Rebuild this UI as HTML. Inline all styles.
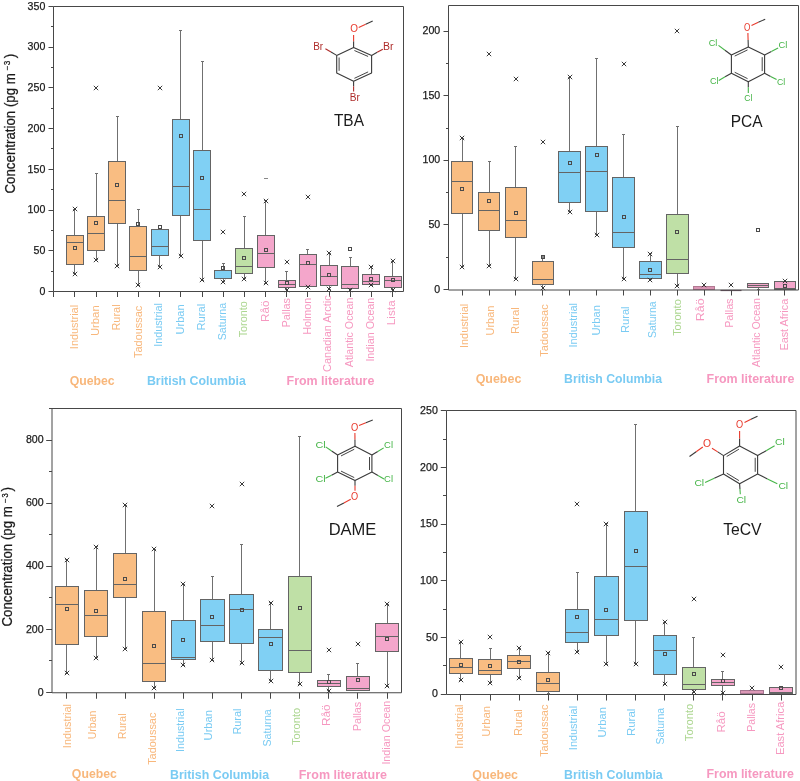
<!DOCTYPE html><html><head><meta charset="utf-8"><style>html,body{margin:0;padding:0;background:#fff;}svg{display:block;will-change:transform;}text{font-family:"Liberation Sans", sans-serif;}</style></head><body>
<svg width="800" height="781" viewBox="0 0 800 781">
<rect width="800" height="781" fill="#fff"/>
<line x1="74.5" y1="209.5" x2="74.5" y2="235.5" stroke="#707070" stroke-width="1"/>
<line x1="73" y1="209.5" x2="76" y2="209.5" stroke="#707070" stroke-width="1"/>
<line x1="74.5" y1="264.5" x2="74.5" y2="273.5" stroke="#707070" stroke-width="1"/>
<line x1="73" y1="273.5" x2="76" y2="273.5" stroke="#707070" stroke-width="1"/>
<rect x="66.5" y="235.5" width="17" height="29" fill="#F9BD82" stroke="#646464" stroke-width="1"/>
<line x1="66.5" y1="242.5" x2="83.5" y2="242.5" stroke="#646464" stroke-width="1"/>
<rect x="73.5" y="246.5" width="3" height="3" fill="none" stroke="#4a4a4a" stroke-width="1"/>
<path d="M72.8 206.8L77.2 211.2M77.2 206.8L72.8 211.2" stroke="#303030" stroke-width="0.95" fill="none"/>
<path d="M72.8 271.8L77.2 276.2M77.2 271.8L72.8 276.2" stroke="#303030" stroke-width="0.95" fill="none"/>
<line x1="96.5" y1="173.5" x2="96.5" y2="216.5" stroke="#707070" stroke-width="1"/>
<line x1="95" y1="173.5" x2="98" y2="173.5" stroke="#707070" stroke-width="1"/>
<line x1="96.5" y1="250.5" x2="96.5" y2="259.5" stroke="#707070" stroke-width="1"/>
<line x1="95" y1="259.5" x2="98" y2="259.5" stroke="#707070" stroke-width="1"/>
<rect x="87.5" y="216.5" width="17" height="34" fill="#F9BD82" stroke="#646464" stroke-width="1"/>
<line x1="87.5" y1="233.5" x2="104.5" y2="233.5" stroke="#646464" stroke-width="1"/>
<rect x="94.5" y="221.5" width="3" height="3" fill="none" stroke="#4a4a4a" stroke-width="1"/>
<path d="M93.8 85.8L98.2 90.2M98.2 85.8L93.8 90.2" stroke="#303030" stroke-width="0.95" fill="none"/>
<path d="M93.8 257.8L98.2 262.2M98.2 257.8L93.8 262.2" stroke="#303030" stroke-width="0.95" fill="none"/>
<line x1="117.5" y1="116.5" x2="117.5" y2="161.5" stroke="#707070" stroke-width="1"/>
<line x1="116" y1="116.5" x2="119" y2="116.5" stroke="#707070" stroke-width="1"/>
<line x1="117.5" y1="223.5" x2="117.5" y2="265.5" stroke="#707070" stroke-width="1"/>
<line x1="116" y1="265.5" x2="119" y2="265.5" stroke="#707070" stroke-width="1"/>
<rect x="108.5" y="161.5" width="17" height="62" fill="#F9BD82" stroke="#646464" stroke-width="1"/>
<line x1="108.5" y1="200.5" x2="125.5" y2="200.5" stroke="#646464" stroke-width="1"/>
<rect x="115.5" y="183.5" width="3" height="3" fill="none" stroke="#4a4a4a" stroke-width="1"/>
<path d="M114.8 263.8L119.2 268.2M119.2 263.8L114.8 268.2" stroke="#303030" stroke-width="0.95" fill="none"/>
<line x1="138.5" y1="209.5" x2="138.5" y2="226.5" stroke="#707070" stroke-width="1"/>
<line x1="137" y1="209.5" x2="140" y2="209.5" stroke="#707070" stroke-width="1"/>
<line x1="138.5" y1="270.5" x2="138.5" y2="285.5" stroke="#707070" stroke-width="1"/>
<line x1="137" y1="285.5" x2="140" y2="285.5" stroke="#707070" stroke-width="1"/>
<rect x="129.5" y="226.5" width="17" height="44" fill="#F9BD82" stroke="#646464" stroke-width="1"/>
<line x1="129.5" y1="256.5" x2="146.5" y2="256.5" stroke="#646464" stroke-width="1"/>
<rect x="136.5" y="222.5" width="3" height="3" fill="none" stroke="#4a4a4a" stroke-width="1"/>
<path d="M135.8 282.8L140.2 287.2M140.2 282.8L135.8 287.2" stroke="#303030" stroke-width="0.95" fill="none"/>
<line x1="159.5" y1="255.5" x2="159.5" y2="266.5" stroke="#707070" stroke-width="1"/>
<line x1="158" y1="266.5" x2="161" y2="266.5" stroke="#707070" stroke-width="1"/>
<rect x="151.5" y="229.5" width="17" height="26" fill="#80D0F4" stroke="#646464" stroke-width="1"/>
<line x1="151.5" y1="246.5" x2="168.5" y2="246.5" stroke="#646464" stroke-width="1"/>
<rect x="158.5" y="225.5" width="3" height="3" fill="none" stroke="#4a4a4a" stroke-width="1"/>
<path d="M157.8 85.8L162.2 90.2M162.2 85.8L157.8 90.2" stroke="#303030" stroke-width="0.95" fill="none"/>
<path d="M157.8 264.8L162.2 269.2M162.2 264.8L157.8 269.2" stroke="#303030" stroke-width="0.95" fill="none"/>
<line x1="180.5" y1="30.5" x2="180.5" y2="119.5" stroke="#707070" stroke-width="1"/>
<line x1="179" y1="30.5" x2="182" y2="30.5" stroke="#707070" stroke-width="1"/>
<line x1="180.5" y1="215.5" x2="180.5" y2="255.5" stroke="#707070" stroke-width="1"/>
<line x1="179" y1="255.5" x2="182" y2="255.5" stroke="#707070" stroke-width="1"/>
<rect x="172.5" y="119.5" width="17" height="96" fill="#80D0F4" stroke="#646464" stroke-width="1"/>
<line x1="172.5" y1="186.5" x2="189.5" y2="186.5" stroke="#646464" stroke-width="1"/>
<rect x="179.5" y="134.5" width="3" height="3" fill="none" stroke="#4a4a4a" stroke-width="1"/>
<path d="M178.8 253.8L183.2 258.2M183.2 253.8L178.8 258.2" stroke="#303030" stroke-width="0.95" fill="none"/>
<line x1="202.5" y1="61.5" x2="202.5" y2="150.5" stroke="#707070" stroke-width="1"/>
<line x1="201" y1="61.5" x2="204" y2="61.5" stroke="#707070" stroke-width="1"/>
<line x1="202.5" y1="240.5" x2="202.5" y2="280.5" stroke="#707070" stroke-width="1"/>
<line x1="201" y1="280.5" x2="204" y2="280.5" stroke="#707070" stroke-width="1"/>
<rect x="193.5" y="150.5" width="17" height="90" fill="#80D0F4" stroke="#646464" stroke-width="1"/>
<line x1="193.5" y1="209.5" x2="210.5" y2="209.5" stroke="#646464" stroke-width="1"/>
<rect x="200.5" y="176.5" width="3" height="3" fill="none" stroke="#4a4a4a" stroke-width="1"/>
<path d="M199.8 277.8L204.2 282.2M204.2 277.8L199.8 282.2" stroke="#303030" stroke-width="0.95" fill="none"/>
<line x1="223.5" y1="263.5" x2="223.5" y2="270.5" stroke="#707070" stroke-width="1"/>
<line x1="222" y1="263.5" x2="225" y2="263.5" stroke="#707070" stroke-width="1"/>
<line x1="223.5" y1="278.5" x2="223.5" y2="281.5" stroke="#707070" stroke-width="1"/>
<line x1="222" y1="281.5" x2="225" y2="281.5" stroke="#707070" stroke-width="1"/>
<rect x="214.5" y="270.5" width="17" height="8" fill="#80D0F4" stroke="#646464" stroke-width="1"/>
<rect x="221.5" y="266.5" width="3" height="3" fill="none" stroke="#4a4a4a" stroke-width="1"/>
<path d="M220.8 229.8L225.2 234.2M225.2 229.8L220.8 234.2" stroke="#303030" stroke-width="0.95" fill="none"/>
<path d="M220.8 279.8L225.2 284.2M225.2 279.8L220.8 284.2" stroke="#303030" stroke-width="0.95" fill="none"/>
<line x1="244.5" y1="216.5" x2="244.5" y2="248.5" stroke="#707070" stroke-width="1"/>
<line x1="243" y1="216.5" x2="246" y2="216.5" stroke="#707070" stroke-width="1"/>
<line x1="244.5" y1="273.5" x2="244.5" y2="278.5" stroke="#707070" stroke-width="1"/>
<line x1="243" y1="278.5" x2="246" y2="278.5" stroke="#707070" stroke-width="1"/>
<rect x="235.5" y="248.5" width="17" height="25" fill="#BFE0A6" stroke="#646464" stroke-width="1"/>
<line x1="235.5" y1="266.5" x2="252.5" y2="266.5" stroke="#646464" stroke-width="1"/>
<rect x="242.5" y="256.5" width="3" height="3" fill="none" stroke="#4a4a4a" stroke-width="1"/>
<path d="M241.8 191.8L246.2 196.2M246.2 191.8L241.8 196.2" stroke="#303030" stroke-width="0.95" fill="none"/>
<path d="M241.8 276.8L246.2 281.2M246.2 276.8L241.8 281.2" stroke="#303030" stroke-width="0.95" fill="none"/>
<line x1="265.5" y1="200.5" x2="265.5" y2="235.5" stroke="#707070" stroke-width="1"/>
<line x1="264" y1="200.5" x2="267" y2="200.5" stroke="#707070" stroke-width="1"/>
<line x1="265.5" y1="267.5" x2="265.5" y2="283.5" stroke="#707070" stroke-width="1"/>
<line x1="264" y1="283.5" x2="267" y2="283.5" stroke="#707070" stroke-width="1"/>
<rect x="257.5" y="235.5" width="17" height="32" fill="#F4A6CB" stroke="#646464" stroke-width="1"/>
<line x1="257.5" y1="253.5" x2="274.5" y2="253.5" stroke="#646464" stroke-width="1"/>
<rect x="264.5" y="248.5" width="3" height="3" fill="none" stroke="#4a4a4a" stroke-width="1"/>
<path d="M263.8 198.8L268.2 203.2M268.2 198.8L263.8 203.2" stroke="#303030" stroke-width="0.95" fill="none"/>
<path d="M263.8 280.8L268.2 285.2M268.2 280.8L263.8 285.2" stroke="#303030" stroke-width="0.95" fill="none"/>
<line x1="264" y1="178.5" x2="268" y2="178.5" stroke="#888" stroke-width="1"/>
<line x1="286.5" y1="271.5" x2="286.5" y2="280.5" stroke="#707070" stroke-width="1"/>
<line x1="285" y1="271.5" x2="288" y2="271.5" stroke="#707070" stroke-width="1"/>
<line x1="286.5" y1="287.5" x2="286.5" y2="289.5" stroke="#707070" stroke-width="1"/>
<line x1="285" y1="289.5" x2="288" y2="289.5" stroke="#707070" stroke-width="1"/>
<rect x="278.5" y="280.5" width="17" height="7" fill="#F4A6CB" stroke="#646464" stroke-width="1"/>
<line x1="278.5" y1="284.5" x2="295.5" y2="284.5" stroke="#646464" stroke-width="1"/>
<rect x="285.5" y="281.5" width="3" height="3" fill="none" stroke="#4a4a4a" stroke-width="1"/>
<path d="M284.8 259.8L289.2 264.2M289.2 259.8L284.8 264.2" stroke="#303030" stroke-width="0.95" fill="none"/>
<path d="M284.8 287.8L289.2 292.2M289.2 287.8L284.8 292.2" stroke="#303030" stroke-width="0.95" fill="none"/>
<line x1="307.5" y1="249.5" x2="307.5" y2="254.5" stroke="#707070" stroke-width="1"/>
<line x1="306" y1="249.5" x2="309" y2="249.5" stroke="#707070" stroke-width="1"/>
<rect x="299.5" y="254.5" width="17" height="32" fill="#F4A6CB" stroke="#646464" stroke-width="1"/>
<line x1="299.5" y1="264.5" x2="316.5" y2="264.5" stroke="#646464" stroke-width="1"/>
<rect x="306.5" y="261.5" width="3" height="3" fill="none" stroke="#4a4a4a" stroke-width="1"/>
<path d="M305.8 194.8L310.2 199.2M310.2 194.8L305.8 199.2" stroke="#303030" stroke-width="0.95" fill="none"/>
<path d="M305.8 284.8L310.2 289.2M310.2 284.8L305.8 289.2" stroke="#303030" stroke-width="0.95" fill="none"/>
<line x1="329.5" y1="253.5" x2="329.5" y2="265.5" stroke="#707070" stroke-width="1"/>
<line x1="328" y1="253.5" x2="331" y2="253.5" stroke="#707070" stroke-width="1"/>
<line x1="329.5" y1="285.5" x2="329.5" y2="289.5" stroke="#707070" stroke-width="1"/>
<line x1="328" y1="289.5" x2="331" y2="289.5" stroke="#707070" stroke-width="1"/>
<rect x="320.5" y="265.5" width="17" height="20" fill="#F4A6CB" stroke="#646464" stroke-width="1"/>
<line x1="320.5" y1="276.5" x2="337.5" y2="276.5" stroke="#646464" stroke-width="1"/>
<rect x="327.5" y="273.5" width="3" height="3" fill="none" stroke="#4a4a4a" stroke-width="1"/>
<path d="M326.8 250.8L331.2 255.2M331.2 250.8L326.8 255.2" stroke="#303030" stroke-width="0.95" fill="none"/>
<path d="M326.8 286.8L331.2 291.2M331.2 286.8L326.8 291.2" stroke="#303030" stroke-width="0.95" fill="none"/>
<line x1="350.5" y1="257.5" x2="350.5" y2="266.5" stroke="#707070" stroke-width="1"/>
<line x1="349" y1="257.5" x2="352" y2="257.5" stroke="#707070" stroke-width="1"/>
<line x1="350.5" y1="288.5" x2="350.5" y2="289.5" stroke="#707070" stroke-width="1"/>
<line x1="349" y1="289.5" x2="352" y2="289.5" stroke="#707070" stroke-width="1"/>
<rect x="341.5" y="266.5" width="17" height="22" fill="#F4A6CB" stroke="#646464" stroke-width="1"/>
<line x1="341.5" y1="284.5" x2="358.5" y2="284.5" stroke="#646464" stroke-width="1"/>
<rect x="348.5" y="247.5" width="3" height="3" fill="none" stroke="#4a4a4a" stroke-width="1"/>
<path d="M347.8 287.8L352.2 292.2M352.2 287.8L347.8 292.2" stroke="#303030" stroke-width="0.95" fill="none"/>
<line x1="371.5" y1="266.5" x2="371.5" y2="274.5" stroke="#707070" stroke-width="1"/>
<line x1="370" y1="266.5" x2="373" y2="266.5" stroke="#707070" stroke-width="1"/>
<line x1="371.5" y1="284.5" x2="371.5" y2="285.5" stroke="#707070" stroke-width="1"/>
<line x1="370" y1="285.5" x2="373" y2="285.5" stroke="#707070" stroke-width="1"/>
<rect x="362.5" y="274.5" width="17" height="10" fill="#F4A6CB" stroke="#646464" stroke-width="1"/>
<line x1="362.5" y1="281.5" x2="379.5" y2="281.5" stroke="#646464" stroke-width="1"/>
<rect x="369.5" y="277.5" width="3" height="3" fill="none" stroke="#4a4a4a" stroke-width="1"/>
<path d="M368.8 264.8L373.2 269.2M373.2 264.8L368.8 269.2" stroke="#303030" stroke-width="0.95" fill="none"/>
<path d="M368.8 282.8L373.2 287.2M373.2 282.8L368.8 287.2" stroke="#303030" stroke-width="0.95" fill="none"/>
<line x1="392.5" y1="261.5" x2="392.5" y2="276.5" stroke="#707070" stroke-width="1"/>
<line x1="391" y1="261.5" x2="394" y2="261.5" stroke="#707070" stroke-width="1"/>
<line x1="392.5" y1="287.5" x2="392.5" y2="289.5" stroke="#707070" stroke-width="1"/>
<line x1="391" y1="289.5" x2="394" y2="289.5" stroke="#707070" stroke-width="1"/>
<rect x="384.5" y="276.5" width="17" height="11" fill="#F4A6CB" stroke="#646464" stroke-width="1"/>
<line x1="384.5" y1="280.5" x2="401.5" y2="280.5" stroke="#646464" stroke-width="1"/>
<rect x="391.5" y="278.5" width="3" height="3" fill="none" stroke="#4a4a4a" stroke-width="1"/>
<path d="M390.8 258.8L395.2 263.2M395.2 258.8L390.8 263.2" stroke="#303030" stroke-width="0.95" fill="none"/>
<path d="M390.8 287.8L395.2 292.2M395.2 287.8L390.8 292.2" stroke="#303030" stroke-width="0.95" fill="none"/>
<path d="M53.5 291.5H403.5V6.5H53.5" fill="none" stroke="#474747" stroke-width="1"/>
<line x1="53.5" y1="6.5" x2="53.5" y2="291.5" stroke="#474747" stroke-width="1"/>
<line x1="48.5" y1="291.5" x2="53.5" y2="291.5" stroke="#474747" stroke-width="1"/>
<line x1="48.5" y1="250.5" x2="53.5" y2="250.5" stroke="#474747" stroke-width="1"/>
<line x1="48.5" y1="210.5" x2="53.5" y2="210.5" stroke="#474747" stroke-width="1"/>
<line x1="48.5" y1="169.5" x2="53.5" y2="169.5" stroke="#474747" stroke-width="1"/>
<line x1="48.5" y1="128.5" x2="53.5" y2="128.5" stroke="#474747" stroke-width="1"/>
<line x1="48.5" y1="87.5" x2="53.5" y2="87.5" stroke="#474747" stroke-width="1"/>
<line x1="48.5" y1="47.5" x2="53.5" y2="47.5" stroke="#474747" stroke-width="1"/>
<line x1="48.5" y1="6.5" x2="53.5" y2="6.5" stroke="#474747" stroke-width="1"/>
<line x1="51" y1="271.5" x2="53.5" y2="271.5" stroke="#474747" stroke-width="1"/>
<line x1="51" y1="230.5" x2="53.5" y2="230.5" stroke="#474747" stroke-width="1"/>
<line x1="51" y1="189.5" x2="53.5" y2="189.5" stroke="#474747" stroke-width="1"/>
<line x1="51" y1="148.5" x2="53.5" y2="148.5" stroke="#474747" stroke-width="1"/>
<line x1="51" y1="108.5" x2="53.5" y2="108.5" stroke="#474747" stroke-width="1"/>
<line x1="51" y1="67.5" x2="53.5" y2="67.5" stroke="#474747" stroke-width="1"/>
<line x1="51" y1="26.5" x2="53.5" y2="26.5" stroke="#474747" stroke-width="1"/>
<text x="45.3" y="294.65" font-size="11.4" text-anchor="end" fill="#1a1a1a" textLength="5.9" lengthAdjust="spacingAndGlyphs" stroke="#1a1a1a" stroke-width="0.25">0</text>
<text x="45.3" y="253.93" font-size="11.4" text-anchor="end" fill="#1a1a1a" textLength="11.79" lengthAdjust="spacingAndGlyphs" stroke="#1a1a1a" stroke-width="0.25">50</text>
<text x="45.3" y="213.22" font-size="11.4" text-anchor="end" fill="#1a1a1a" textLength="17.69" lengthAdjust="spacingAndGlyphs" stroke="#1a1a1a" stroke-width="0.25">100</text>
<text x="45.3" y="172.5" font-size="11.4" text-anchor="end" fill="#1a1a1a" textLength="17.69" lengthAdjust="spacingAndGlyphs" stroke="#1a1a1a" stroke-width="0.25">150</text>
<text x="45.3" y="131.79" font-size="11.4" text-anchor="end" fill="#1a1a1a" textLength="17.69" lengthAdjust="spacingAndGlyphs" stroke="#1a1a1a" stroke-width="0.25">200</text>
<text x="45.3" y="91.07" font-size="11.4" text-anchor="end" fill="#1a1a1a" textLength="17.69" lengthAdjust="spacingAndGlyphs" stroke="#1a1a1a" stroke-width="0.25">250</text>
<text x="45.3" y="50.36" font-size="11.4" text-anchor="end" fill="#1a1a1a" textLength="17.69" lengthAdjust="spacingAndGlyphs" stroke="#1a1a1a" stroke-width="0.25">300</text>
<text x="45.3" y="9.64" font-size="11.4" text-anchor="end" fill="#1a1a1a" textLength="17.69" lengthAdjust="spacingAndGlyphs" stroke="#1a1a1a" stroke-width="0.25">350</text>
<line x1="53.5" y1="291.5" x2="53.5" y2="297" stroke="#474747" stroke-width="1"/>
<line x1="74.5" y1="291.5" x2="74.5" y2="297" stroke="#474747" stroke-width="1"/>
<line x1="96.5" y1="291.5" x2="96.5" y2="297" stroke="#474747" stroke-width="1"/>
<line x1="117.5" y1="291.5" x2="117.5" y2="297" stroke="#474747" stroke-width="1"/>
<line x1="138.5" y1="291.5" x2="138.5" y2="297" stroke="#474747" stroke-width="1"/>
<line x1="159.5" y1="291.5" x2="159.5" y2="297" stroke="#474747" stroke-width="1"/>
<line x1="180.5" y1="291.5" x2="180.5" y2="297" stroke="#474747" stroke-width="1"/>
<line x1="202.5" y1="291.5" x2="202.5" y2="297" stroke="#474747" stroke-width="1"/>
<line x1="223.5" y1="291.5" x2="223.5" y2="297" stroke="#474747" stroke-width="1"/>
<line x1="244.5" y1="291.5" x2="244.5" y2="297" stroke="#474747" stroke-width="1"/>
<line x1="265.5" y1="291.5" x2="265.5" y2="297" stroke="#474747" stroke-width="1"/>
<line x1="286.5" y1="291.5" x2="286.5" y2="297" stroke="#474747" stroke-width="1"/>
<line x1="307.5" y1="291.5" x2="307.5" y2="297" stroke="#474747" stroke-width="1"/>
<line x1="329.5" y1="291.5" x2="329.5" y2="297" stroke="#474747" stroke-width="1"/>
<line x1="350.5" y1="291.5" x2="350.5" y2="297" stroke="#474747" stroke-width="1"/>
<line x1="371.5" y1="291.5" x2="371.5" y2="297" stroke="#474747" stroke-width="1"/>
<line x1="392.5" y1="291.5" x2="392.5" y2="297" stroke="#474747" stroke-width="1"/>
<text transform="translate(78.07,349.13) rotate(-90)" font-size="11.1" fill="#F8B77B" textLength="44.22" lengthAdjust="spacingAndGlyphs">Industrial</text>
<text transform="translate(98.97,336.1) rotate(-90)" font-size="11.1" fill="#F8B77B" textLength="30.77" lengthAdjust="spacingAndGlyphs">Urban</text>
<text transform="translate(120.37,330.52) rotate(-90)" font-size="11.1" fill="#F8B77B" textLength="26.08" lengthAdjust="spacingAndGlyphs">Rural</text>
<text transform="translate(141.77,357.97) rotate(-90)" font-size="11.1" fill="#F8B77B" textLength="52.2" lengthAdjust="spacingAndGlyphs">Tadoussac</text>
<text transform="translate(162.47,346.82) rotate(-90)" font-size="11.1" fill="#7ACBF3" textLength="43.7" lengthAdjust="spacingAndGlyphs">Industrial</text>
<text transform="translate(183.97,334.48) rotate(-90)" font-size="11.1" fill="#7ACBF3" textLength="30.03" lengthAdjust="spacingAndGlyphs">Urban</text>
<text transform="translate(205.17,330.55) rotate(-90)" font-size="11.1" fill="#7ACBF3" textLength="26.82" lengthAdjust="spacingAndGlyphs">Rural</text>
<text transform="translate(225.93,340.23) rotate(-90)" font-size="11.1" fill="#7ACBF3" textLength="37.31" lengthAdjust="spacingAndGlyphs">Saturna</text>
<text transform="translate(247.07,337.37) rotate(-90)" font-size="11.1" fill="#ACD690" textLength="36.16" lengthAdjust="spacingAndGlyphs">Toronto</text>
<text transform="translate(269.41,321.89) rotate(-90)" font-size="11.1" fill="#F698C0" textLength="21.5" lengthAdjust="spacingAndGlyphs">Råö</text>
<text transform="translate(290.27,327.52) rotate(-90)" font-size="11.1" fill="#F698C0" textLength="29.53" lengthAdjust="spacingAndGlyphs">Pallas</text>
<text transform="translate(310.97,334.81) rotate(-90)" font-size="11.1" fill="#F698C0" textLength="37.17" lengthAdjust="spacingAndGlyphs">Holmon</text>
<text transform="translate(331.47,371.9) rotate(-90)" font-size="11.1" fill="#F698C0" textLength="76.51" lengthAdjust="spacingAndGlyphs">Canadian Arctic</text>
<text transform="translate(352.77,367.25) rotate(-90)" font-size="11.1" fill="#F698C0" textLength="69.63" lengthAdjust="spacingAndGlyphs">Atlantic Ocean</text>
<text transform="translate(373.97,361.62) rotate(-90)" font-size="11.1" fill="#F698C0" textLength="63.95" lengthAdjust="spacingAndGlyphs">Indian Ocean</text>
<text transform="translate(395.27,325.19) rotate(-90)" font-size="11.1" fill="#F698C0" textLength="24.87" lengthAdjust="spacingAndGlyphs">Lista</text>
<text x="69.66" y="385.1" font-size="12.6" font-weight="bold" fill="#F8B77B" textLength="45" lengthAdjust="spacingAndGlyphs">Quebec</text>
<text x="146.95" y="385.2" font-size="12.6" font-weight="bold" fill="#7ACBF3" textLength="98.89" lengthAdjust="spacingAndGlyphs">British Columbia</text>
<text x="286.54" y="385.2" font-size="12.6" font-weight="bold" fill="#F698C0" textLength="87.87" lengthAdjust="spacingAndGlyphs">From literature</text>
<text transform="translate(14.5,193.51) rotate(-90)" font-size="13.8" fill="#1a1a1a" textLength="120.43" lengthAdjust="spacingAndGlyphs" stroke="#1a1a1a" stroke-width="0.25">Concentration (pg m</text>
<text transform="translate(9.9,70.3) rotate(-90)" font-size="8" fill="#1a1a1a" stroke="#1a1a1a" stroke-width="0.25">−</text>
<text transform="translate(9.9,65) rotate(-90)" font-size="9.5" fill="#1a1a1a" textLength="4.23" lengthAdjust="spacingAndGlyphs" stroke="#1a1a1a" stroke-width="0.25">3</text>
<text transform="translate(14.5,58.3) rotate(-90)" font-size="13.8" fill="#1a1a1a" stroke="#1a1a1a" stroke-width="0.25">)</text>
<polygon points="353.6,47.6 371.6,55.4 371.6,72.9 353.6,81.3 336.7,72.9 336.7,55.4" fill="none" stroke="#3a3a3a" stroke-width="1.1" stroke-linejoin="round"/>
<line x1="354.41" y1="50.52" x2="368.09" y2="56.45" stroke="#3a3a3a" stroke-width="0.95"/>
<line x1="368.1" y1="71.92" x2="354.42" y2="78.3" stroke="#3a3a3a" stroke-width="0.95"/>
<line x1="339.1" y1="70.81" x2="339.1" y2="57.51" stroke="#3a3a3a" stroke-width="0.95"/>
<line x1="353.6" y1="47.6" x2="353.6" y2="41.3" stroke="#3a3a3a" stroke-width="1.1"/>
<line x1="353.6" y1="41.3" x2="353.6" y2="35" stroke="#E8392C" stroke-width="1.1"/>
<line x1="358.7" y1="27.4" x2="365.7" y2="24.25" stroke="#E8392C" stroke-width="1.1"/>
<line x1="365.7" y1="24.25" x2="372.7" y2="21.1" stroke="#3a3a3a" stroke-width="1.1"/>
<text x="350.15" y="32.4" font-size="11" fill="#E8392C" textLength="7.72" lengthAdjust="spacingAndGlyphs">O</text>
<line x1="336.7" y1="55.4" x2="331.05" y2="52.05" stroke="#3a3a3a" stroke-width="1.1"/>
<line x1="331.05" y1="52.05" x2="325.4" y2="48.7" stroke="#AE2C2A" stroke-width="1.1"/>
<text x="313.16" y="49.5" font-size="10" fill="#AE2C2A" textLength="9.89" lengthAdjust="spacingAndGlyphs">Br</text>
<line x1="371.6" y1="55.4" x2="377.2" y2="52.3" stroke="#3a3a3a" stroke-width="1.1"/>
<line x1="377.2" y1="52.3" x2="382.8" y2="49.2" stroke="#AE2C2A" stroke-width="1.1"/>
<text x="382.91" y="49.8" font-size="10" fill="#AE2C2A" textLength="10.45" lengthAdjust="spacingAndGlyphs">Br</text>
<line x1="353.6" y1="81.3" x2="353.6" y2="86.35" stroke="#3a3a3a" stroke-width="1.1"/>
<line x1="353.6" y1="86.35" x2="353.6" y2="91.4" stroke="#AE2C2A" stroke-width="1.1"/>
<text x="349.74" y="101.3" font-size="10" fill="#AE2C2A" textLength="10.11" lengthAdjust="spacingAndGlyphs">Br</text>
<text x="333.94" y="126.2" font-size="16.8" fill="#1a1a1a" textLength="30.01" lengthAdjust="spacingAndGlyphs">TBA</text>
<line x1="462.5" y1="138.5" x2="462.5" y2="161.5" stroke="#707070" stroke-width="1"/>
<line x1="461" y1="138.5" x2="464" y2="138.5" stroke="#707070" stroke-width="1"/>
<line x1="462.5" y1="213.5" x2="462.5" y2="266.5" stroke="#707070" stroke-width="1"/>
<line x1="461" y1="266.5" x2="464" y2="266.5" stroke="#707070" stroke-width="1"/>
<rect x="451.5" y="161.5" width="21" height="52" fill="#F9BD82" stroke="#646464" stroke-width="1"/>
<line x1="451.5" y1="181.5" x2="472.5" y2="181.5" stroke="#646464" stroke-width="1"/>
<rect x="460.5" y="187.5" width="3" height="3" fill="none" stroke="#4a4a4a" stroke-width="1"/>
<path d="M459.8 135.8L464.2 140.2M464.2 135.8L459.8 140.2" stroke="#303030" stroke-width="0.95" fill="none"/>
<path d="M459.8 264.8L464.2 269.2M464.2 264.8L459.8 269.2" stroke="#303030" stroke-width="0.95" fill="none"/>
<line x1="489.5" y1="161.5" x2="489.5" y2="192.5" stroke="#707070" stroke-width="1"/>
<line x1="488" y1="161.5" x2="491" y2="161.5" stroke="#707070" stroke-width="1"/>
<line x1="489.5" y1="230.5" x2="489.5" y2="265.5" stroke="#707070" stroke-width="1"/>
<line x1="488" y1="265.5" x2="491" y2="265.5" stroke="#707070" stroke-width="1"/>
<rect x="478.5" y="192.5" width="21" height="38" fill="#F9BD82" stroke="#646464" stroke-width="1"/>
<line x1="478.5" y1="210.5" x2="499.5" y2="210.5" stroke="#646464" stroke-width="1"/>
<rect x="487.5" y="199.5" width="3" height="3" fill="none" stroke="#4a4a4a" stroke-width="1"/>
<path d="M486.8 51.8L491.2 56.2M491.2 51.8L486.8 56.2" stroke="#303030" stroke-width="0.95" fill="none"/>
<path d="M486.8 263.8L491.2 268.2M491.2 263.8L486.8 268.2" stroke="#303030" stroke-width="0.95" fill="none"/>
<line x1="515.5" y1="146.5" x2="515.5" y2="187.5" stroke="#707070" stroke-width="1"/>
<line x1="514" y1="146.5" x2="517" y2="146.5" stroke="#707070" stroke-width="1"/>
<line x1="515.5" y1="237.5" x2="515.5" y2="278.5" stroke="#707070" stroke-width="1"/>
<line x1="514" y1="278.5" x2="517" y2="278.5" stroke="#707070" stroke-width="1"/>
<rect x="505.5" y="187.5" width="21" height="50" fill="#F9BD82" stroke="#646464" stroke-width="1"/>
<line x1="505.5" y1="220.5" x2="526.5" y2="220.5" stroke="#646464" stroke-width="1"/>
<rect x="514.5" y="211.5" width="3" height="3" fill="none" stroke="#4a4a4a" stroke-width="1"/>
<path d="M513.8 76.8L518.2 81.2M518.2 76.8L513.8 81.2" stroke="#303030" stroke-width="0.95" fill="none"/>
<path d="M513.8 276.8L518.2 281.2M518.2 276.8L513.8 281.2" stroke="#303030" stroke-width="0.95" fill="none"/>
<line x1="542.5" y1="258.5" x2="542.5" y2="261.5" stroke="#707070" stroke-width="1"/>
<line x1="542.5" y1="284.5" x2="542.5" y2="287.5" stroke="#707070" stroke-width="1"/>
<rect x="532.5" y="261.5" width="21" height="23" fill="#F9BD82" stroke="#646464" stroke-width="1"/>
<line x1="532.5" y1="279.5" x2="553.5" y2="279.5" stroke="#646464" stroke-width="1"/>
<rect x="541.5" y="255.5" width="3" height="3" fill="#888" stroke="#4a4a4a" stroke-width="1"/>
<path d="M540.8 139.8L545.2 144.2M545.2 139.8L540.8 144.2" stroke="#303030" stroke-width="0.95" fill="none"/>
<path d="M540.8 285.8L545.2 290.2M545.2 285.8L540.8 290.2" stroke="#303030" stroke-width="0.95" fill="none"/>
<line x1="569.5" y1="77.5" x2="569.5" y2="151.5" stroke="#707070" stroke-width="1"/>
<line x1="568" y1="77.5" x2="571" y2="77.5" stroke="#707070" stroke-width="1"/>
<line x1="569.5" y1="202.5" x2="569.5" y2="211.5" stroke="#707070" stroke-width="1"/>
<line x1="568" y1="211.5" x2="571" y2="211.5" stroke="#707070" stroke-width="1"/>
<rect x="558.5" y="151.5" width="22" height="51" fill="#80D0F4" stroke="#646464" stroke-width="1"/>
<line x1="558.5" y1="172.5" x2="580.5" y2="172.5" stroke="#646464" stroke-width="1"/>
<rect x="568.5" y="161.5" width="3" height="3" fill="none" stroke="#4a4a4a" stroke-width="1"/>
<path d="M567.8 74.8L572.2 79.2M572.2 74.8L567.8 79.2" stroke="#303030" stroke-width="0.95" fill="none"/>
<path d="M567.8 209.8L572.2 214.2M572.2 209.8L567.8 214.2" stroke="#303030" stroke-width="0.95" fill="none"/>
<line x1="596.5" y1="58.5" x2="596.5" y2="146.5" stroke="#707070" stroke-width="1"/>
<line x1="595" y1="58.5" x2="598" y2="58.5" stroke="#707070" stroke-width="1"/>
<line x1="596.5" y1="211.5" x2="596.5" y2="234.5" stroke="#707070" stroke-width="1"/>
<line x1="595" y1="234.5" x2="598" y2="234.5" stroke="#707070" stroke-width="1"/>
<rect x="585.5" y="146.5" width="22" height="65" fill="#80D0F4" stroke="#646464" stroke-width="1"/>
<line x1="585.5" y1="171.5" x2="607.5" y2="171.5" stroke="#646464" stroke-width="1"/>
<rect x="595.5" y="153.5" width="3" height="3" fill="none" stroke="#4a4a4a" stroke-width="1"/>
<path d="M594.8 232.8L599.2 237.2M599.2 232.8L594.8 237.2" stroke="#303030" stroke-width="0.95" fill="none"/>
<line x1="623.5" y1="134.5" x2="623.5" y2="177.5" stroke="#707070" stroke-width="1"/>
<line x1="622" y1="134.5" x2="625" y2="134.5" stroke="#707070" stroke-width="1"/>
<line x1="623.5" y1="247.5" x2="623.5" y2="278.5" stroke="#707070" stroke-width="1"/>
<line x1="622" y1="278.5" x2="625" y2="278.5" stroke="#707070" stroke-width="1"/>
<rect x="612.5" y="177.5" width="22" height="70" fill="#80D0F4" stroke="#646464" stroke-width="1"/>
<line x1="612.5" y1="232.5" x2="634.5" y2="232.5" stroke="#646464" stroke-width="1"/>
<rect x="622.5" y="215.5" width="3" height="3" fill="none" stroke="#4a4a4a" stroke-width="1"/>
<path d="M621.8 61.8L626.2 66.2M626.2 61.8L621.8 66.2" stroke="#303030" stroke-width="0.95" fill="none"/>
<path d="M621.8 276.8L626.2 281.2M626.2 276.8L621.8 281.2" stroke="#303030" stroke-width="0.95" fill="none"/>
<line x1="650.5" y1="253.5" x2="650.5" y2="261.5" stroke="#707070" stroke-width="1"/>
<line x1="649" y1="253.5" x2="652" y2="253.5" stroke="#707070" stroke-width="1"/>
<line x1="650.5" y1="278.5" x2="650.5" y2="279.5" stroke="#707070" stroke-width="1"/>
<line x1="649" y1="279.5" x2="652" y2="279.5" stroke="#707070" stroke-width="1"/>
<rect x="639.5" y="261.5" width="22" height="17" fill="#80D0F4" stroke="#646464" stroke-width="1"/>
<line x1="639.5" y1="274.5" x2="661.5" y2="274.5" stroke="#646464" stroke-width="1"/>
<rect x="648.5" y="268.5" width="3" height="3" fill="none" stroke="#4a4a4a" stroke-width="1"/>
<path d="M647.8 251.8L652.2 256.2M652.2 251.8L647.8 256.2" stroke="#303030" stroke-width="0.95" fill="none"/>
<path d="M647.8 277.8L652.2 282.2M652.2 277.8L647.8 282.2" stroke="#303030" stroke-width="0.95" fill="none"/>
<line x1="677.5" y1="126.5" x2="677.5" y2="214.5" stroke="#707070" stroke-width="1"/>
<line x1="676" y1="126.5" x2="679" y2="126.5" stroke="#707070" stroke-width="1"/>
<line x1="677.5" y1="273.5" x2="677.5" y2="285.5" stroke="#707070" stroke-width="1"/>
<line x1="676" y1="285.5" x2="679" y2="285.5" stroke="#707070" stroke-width="1"/>
<rect x="666.5" y="214.5" width="22" height="59" fill="#BFE0A6" stroke="#646464" stroke-width="1"/>
<line x1="666.5" y1="259.5" x2="688.5" y2="259.5" stroke="#646464" stroke-width="1"/>
<rect x="675.5" y="230.5" width="3" height="3" fill="none" stroke="#4a4a4a" stroke-width="1"/>
<path d="M674.8 28.8L679.2 33.2M679.2 28.8L674.8 33.2" stroke="#303030" stroke-width="0.95" fill="none"/>
<path d="M674.8 283.8L679.2 288.2M679.2 283.8L674.8 288.2" stroke="#303030" stroke-width="0.95" fill="none"/>
<rect x="693.5" y="286.5" width="21" height="3" fill="#d993b3" stroke="#b27a92" stroke-width="1"/>
<path d="M701.8 282.8L706.2 287.2M706.2 282.8L701.8 287.2" stroke="#303030" stroke-width="0.95" fill="none"/>
<line x1="720.5" y1="290.5" x2="741.5" y2="290.5" stroke="#6a5060" stroke-width="1.2"/>
<path d="M728.8 282.8L733.2 287.2M733.2 282.8L728.8 287.2" stroke="#303030" stroke-width="0.95" fill="none"/>
<line x1="758.5" y1="287.5" x2="758.5" y2="289.5" stroke="#707070" stroke-width="1"/>
<line x1="757" y1="289.5" x2="760" y2="289.5" stroke="#707070" stroke-width="1"/>
<rect x="747.5" y="283.5" width="21" height="4" fill="#F4A6CB" stroke="#646464" stroke-width="1"/>
<line x1="747.5" y1="285.5" x2="768.5" y2="285.5" stroke="#646464" stroke-width="1"/>
<rect x="756.5" y="228.5" width="3" height="3" fill="none" stroke="#4a4a4a" stroke-width="1"/>
<rect x="774.5" y="281.5" width="21" height="8" fill="#F4A6CB" stroke="#646464" stroke-width="1"/>
<line x1="774.5" y1="288.5" x2="795.5" y2="288.5" stroke="#646464" stroke-width="1"/>
<rect x="783.5" y="284.5" width="3" height="3" fill="none" stroke="#4a4a4a" stroke-width="1"/>
<path d="M782.8 278.8L787.2 283.2M787.2 278.8L782.8 283.2" stroke="#303030" stroke-width="0.95" fill="none"/>
<path d="M448.5 290H798.5V5.5H448.5" fill="none" stroke="#474747" stroke-width="1"/>
<line x1="448.5" y1="5.5" x2="448.5" y2="290" stroke="#474747" stroke-width="1"/>
<line x1="443.5" y1="289.5" x2="448.5" y2="289.5" stroke="#474747" stroke-width="1"/>
<line x1="443.5" y1="224.5" x2="448.5" y2="224.5" stroke="#474747" stroke-width="1"/>
<line x1="443.5" y1="160.5" x2="448.5" y2="160.5" stroke="#474747" stroke-width="1"/>
<line x1="443.5" y1="95.5" x2="448.5" y2="95.5" stroke="#474747" stroke-width="1"/>
<line x1="443.5" y1="31.5" x2="448.5" y2="31.5" stroke="#474747" stroke-width="1"/>
<line x1="446" y1="257.5" x2="448.5" y2="257.5" stroke="#474747" stroke-width="1"/>
<line x1="446" y1="192.5" x2="448.5" y2="192.5" stroke="#474747" stroke-width="1"/>
<line x1="446" y1="128.5" x2="448.5" y2="128.5" stroke="#474747" stroke-width="1"/>
<line x1="446" y1="63.5" x2="448.5" y2="63.5" stroke="#474747" stroke-width="1"/>
<text x="440.2" y="292.65" font-size="11.4" text-anchor="end" fill="#1a1a1a" textLength="5.9" lengthAdjust="spacingAndGlyphs" stroke="#1a1a1a" stroke-width="0.25">0</text>
<text x="440.2" y="228.05" font-size="11.4" text-anchor="end" fill="#1a1a1a" textLength="11.79" lengthAdjust="spacingAndGlyphs" stroke="#1a1a1a" stroke-width="0.25">50</text>
<text x="440.2" y="163.45" font-size="11.4" text-anchor="end" fill="#1a1a1a" textLength="17.69" lengthAdjust="spacingAndGlyphs" stroke="#1a1a1a" stroke-width="0.25">100</text>
<text x="440.2" y="98.85" font-size="11.4" text-anchor="end" fill="#1a1a1a" textLength="17.69" lengthAdjust="spacingAndGlyphs" stroke="#1a1a1a" stroke-width="0.25">150</text>
<text x="440.2" y="34.25" font-size="11.4" text-anchor="end" fill="#1a1a1a" textLength="17.69" lengthAdjust="spacingAndGlyphs" stroke="#1a1a1a" stroke-width="0.25">200</text>
<line x1="462.5" y1="290" x2="462.5" y2="295.5" stroke="#474747" stroke-width="1"/>
<line x1="489.5" y1="290" x2="489.5" y2="295.5" stroke="#474747" stroke-width="1"/>
<line x1="515.5" y1="290" x2="515.5" y2="295.5" stroke="#474747" stroke-width="1"/>
<line x1="542.5" y1="290" x2="542.5" y2="295.5" stroke="#474747" stroke-width="1"/>
<line x1="569.5" y1="290" x2="569.5" y2="295.5" stroke="#474747" stroke-width="1"/>
<line x1="596.5" y1="290" x2="596.5" y2="295.5" stroke="#474747" stroke-width="1"/>
<line x1="623.5" y1="290" x2="623.5" y2="295.5" stroke="#474747" stroke-width="1"/>
<line x1="650.5" y1="290" x2="650.5" y2="295.5" stroke="#474747" stroke-width="1"/>
<line x1="677.5" y1="290" x2="677.5" y2="295.5" stroke="#474747" stroke-width="1"/>
<line x1="704.5" y1="290" x2="704.5" y2="295.5" stroke="#474747" stroke-width="1"/>
<line x1="731.5" y1="290" x2="731.5" y2="295.5" stroke="#474747" stroke-width="1"/>
<line x1="758.5" y1="290" x2="758.5" y2="295.5" stroke="#474747" stroke-width="1"/>
<line x1="784.5" y1="290" x2="784.5" y2="295.5" stroke="#474747" stroke-width="1"/>
<text transform="translate(467.77,347.93) rotate(-90)" font-size="11.1" fill="#F8B77B" textLength="44.01" lengthAdjust="spacingAndGlyphs">Industrial</text>
<text transform="translate(493.97,335.47) rotate(-90)" font-size="11.1" fill="#F8B77B" textLength="29.82" lengthAdjust="spacingAndGlyphs">Urban</text>
<text transform="translate(518.97,334.05) rotate(-90)" font-size="11.1" fill="#F8B77B" textLength="26.93" lengthAdjust="spacingAndGlyphs">Rural</text>
<text transform="translate(547.77,356.67) rotate(-90)" font-size="11.1" fill="#F8B77B" textLength="52.3" lengthAdjust="spacingAndGlyphs">Tadoussac</text>
<text transform="translate(577.27,347.43) rotate(-90)" font-size="11.1" fill="#7ACBF3" textLength="44.32" lengthAdjust="spacingAndGlyphs">Industrial</text>
<text transform="translate(600.27,335.49) rotate(-90)" font-size="11.1" fill="#7ACBF3" textLength="30.35" lengthAdjust="spacingAndGlyphs">Urban</text>
<text transform="translate(628.97,333.04) rotate(-90)" font-size="11.1" fill="#7ACBF3" textLength="26.61" lengthAdjust="spacingAndGlyphs">Rural</text>
<text transform="translate(656.33,338.12) rotate(-90)" font-size="11.1" fill="#7ACBF3" textLength="36.8" lengthAdjust="spacingAndGlyphs">Saturna</text>
<text transform="translate(680.77,335.87) rotate(-90)" font-size="11.1" fill="#ACD690" textLength="36.67" lengthAdjust="spacingAndGlyphs">Toronto</text>
<text transform="translate(704.41,321.14) rotate(-90)" font-size="11.1" fill="#F698C0" textLength="22.78" lengthAdjust="spacingAndGlyphs">Råö</text>
<text transform="translate(733.47,327.81) rotate(-90)" font-size="11.1" fill="#F698C0" textLength="29.32" lengthAdjust="spacingAndGlyphs">Pallas</text>
<text transform="translate(760.27,367.15) rotate(-90)" font-size="11.1" fill="#F698C0" textLength="69.03" lengthAdjust="spacingAndGlyphs">Atlantic Ocean</text>
<text transform="translate(787.77,350.51) rotate(-90)" font-size="11.1" fill="#F698C0" textLength="51.66" lengthAdjust="spacingAndGlyphs">East Africa</text>
<text x="475.65" y="383.4" font-size="12.6" font-weight="bold" fill="#F8B77B" textLength="45.71" lengthAdjust="spacingAndGlyphs">Quebec</text>
<text x="564.05" y="383.4" font-size="12.6" font-weight="bold" fill="#7ACBF3" textLength="97.98" lengthAdjust="spacingAndGlyphs">British Columbia</text>
<text x="706.54" y="383.4" font-size="12.6" font-weight="bold" fill="#F698C0" textLength="87.87" lengthAdjust="spacingAndGlyphs">From literature</text>
<polygon points="748.3,46.9 764.6,55 764.6,73.3 748.3,81.7 731.4,73.3 731.4,55" fill="none" stroke="#3a3a3a" stroke-width="1.1" stroke-linejoin="round"/>
<line x1="734.7" y1="56.07" x2="747.54" y2="49.91" stroke="#3a3a3a" stroke-width="0.95"/>
<line x1="762.2" y1="57.2" x2="762.2" y2="71.11" stroke="#3a3a3a" stroke-width="0.95"/>
<line x1="747.54" y1="78.65" x2="734.69" y2="72.27" stroke="#3a3a3a" stroke-width="0.95"/>
<line x1="748.3" y1="46.9" x2="748.1" y2="39.95" stroke="#3a3a3a" stroke-width="1.1"/>
<line x1="748.1" y1="39.95" x2="747.9" y2="33" stroke="#E8392C" stroke-width="1.1"/>
<line x1="751.5" y1="25.5" x2="758.35" y2="22.35" stroke="#E8392C" stroke-width="1.1"/>
<line x1="758.35" y1="22.35" x2="765.2" y2="19.2" stroke="#3a3a3a" stroke-width="1.1"/>
<text x="743.98" y="30.6" font-size="11" fill="#E8392C" textLength="6.36" lengthAdjust="spacingAndGlyphs">O</text>
<line x1="731.4" y1="55" x2="724.95" y2="50.2" stroke="#3a3a3a" stroke-width="1.1"/>
<line x1="724.95" y1="50.2" x2="718.5" y2="45.4" stroke="#46B548" stroke-width="1.1"/>
<text x="708.8" y="45.5" font-size="9.8" fill="#46B548" textLength="8.59" lengthAdjust="spacingAndGlyphs">Cl</text>
<line x1="764.6" y1="55" x2="771.35" y2="51.5" stroke="#3a3a3a" stroke-width="1.1"/>
<line x1="771.35" y1="51.5" x2="778.1" y2="48" stroke="#46B548" stroke-width="1.1"/>
<text x="778.58" y="47.7" font-size="9.8" fill="#46B548" textLength="8.81" lengthAdjust="spacingAndGlyphs">Cl</text>
<line x1="731.4" y1="73.3" x2="725.1" y2="76.85" stroke="#3a3a3a" stroke-width="1.1"/>
<line x1="725.1" y1="76.85" x2="718.8" y2="80.4" stroke="#46B548" stroke-width="1.1"/>
<text x="710" y="84.3" font-size="9.8" fill="#46B548" textLength="8.59" lengthAdjust="spacingAndGlyphs">Cl</text>
<line x1="764.6" y1="73.3" x2="770.6" y2="76.4" stroke="#3a3a3a" stroke-width="1.1"/>
<line x1="770.6" y1="76.4" x2="776.6" y2="79.5" stroke="#46B548" stroke-width="1.1"/>
<text x="776.91" y="84.8" font-size="9.8" fill="#46B548" textLength="8.24" lengthAdjust="spacingAndGlyphs">Cl</text>
<line x1="748.3" y1="81.7" x2="748.3" y2="87.35" stroke="#3a3a3a" stroke-width="1.1"/>
<line x1="748.3" y1="87.35" x2="748.3" y2="93" stroke="#46B548" stroke-width="1.1"/>
<text x="744.32" y="101.1" font-size="9.8" fill="#46B548" textLength="8.13" lengthAdjust="spacingAndGlyphs">Cl</text>
<text x="730.71" y="126.5" font-size="16.8" fill="#1a1a1a" textLength="31.86" lengthAdjust="spacingAndGlyphs">PCA</text>
<line x1="66.5" y1="559.5" x2="66.5" y2="586.5" stroke="#707070" stroke-width="1"/>
<line x1="65" y1="559.5" x2="68" y2="559.5" stroke="#707070" stroke-width="1"/>
<line x1="66.5" y1="644.5" x2="66.5" y2="673.5" stroke="#707070" stroke-width="1"/>
<line x1="65" y1="673.5" x2="68" y2="673.5" stroke="#707070" stroke-width="1"/>
<rect x="55.5" y="586.5" width="23" height="58" fill="#F9BD82" stroke="#646464" stroke-width="1"/>
<line x1="55.5" y1="604.5" x2="78.5" y2="604.5" stroke="#646464" stroke-width="1"/>
<rect x="65.5" y="607.5" width="3" height="3" fill="none" stroke="#4a4a4a" stroke-width="1"/>
<path d="M64.8 557.8L69.2 562.2M69.2 557.8L64.8 562.2" stroke="#303030" stroke-width="0.95" fill="none"/>
<path d="M64.8 670.8L69.2 675.2M69.2 670.8L64.8 675.2" stroke="#303030" stroke-width="0.95" fill="none"/>
<line x1="96.5" y1="546.5" x2="96.5" y2="590.5" stroke="#707070" stroke-width="1"/>
<line x1="95" y1="546.5" x2="98" y2="546.5" stroke="#707070" stroke-width="1"/>
<line x1="96.5" y1="636.5" x2="96.5" y2="657.5" stroke="#707070" stroke-width="1"/>
<line x1="95" y1="657.5" x2="98" y2="657.5" stroke="#707070" stroke-width="1"/>
<rect x="84.5" y="590.5" width="23" height="46" fill="#F9BD82" stroke="#646464" stroke-width="1"/>
<line x1="84.5" y1="615.5" x2="107.5" y2="615.5" stroke="#646464" stroke-width="1"/>
<rect x="94.5" y="609.5" width="3" height="3" fill="none" stroke="#4a4a4a" stroke-width="1"/>
<path d="M93.8 544.8L98.2 549.2M98.2 544.8L93.8 549.2" stroke="#303030" stroke-width="0.95" fill="none"/>
<path d="M93.8 655.8L98.2 660.2M98.2 655.8L93.8 660.2" stroke="#303030" stroke-width="0.95" fill="none"/>
<line x1="125.5" y1="505.5" x2="125.5" y2="553.5" stroke="#707070" stroke-width="1"/>
<line x1="124" y1="505.5" x2="127" y2="505.5" stroke="#707070" stroke-width="1"/>
<line x1="125.5" y1="597.5" x2="125.5" y2="648.5" stroke="#707070" stroke-width="1"/>
<line x1="124" y1="648.5" x2="127" y2="648.5" stroke="#707070" stroke-width="1"/>
<rect x="113.5" y="553.5" width="23" height="44" fill="#F9BD82" stroke="#646464" stroke-width="1"/>
<line x1="113.5" y1="584.5" x2="136.5" y2="584.5" stroke="#646464" stroke-width="1"/>
<rect x="123.5" y="577.5" width="3" height="3" fill="none" stroke="#4a4a4a" stroke-width="1"/>
<path d="M122.8 502.8L127.2 507.2M127.2 502.8L122.8 507.2" stroke="#303030" stroke-width="0.95" fill="none"/>
<path d="M122.8 646.8L127.2 651.2M127.2 646.8L122.8 651.2" stroke="#303030" stroke-width="0.95" fill="none"/>
<line x1="154.5" y1="549.5" x2="154.5" y2="611.5" stroke="#707070" stroke-width="1"/>
<line x1="153" y1="549.5" x2="156" y2="549.5" stroke="#707070" stroke-width="1"/>
<line x1="154.5" y1="681.5" x2="154.5" y2="687.5" stroke="#707070" stroke-width="1"/>
<line x1="153" y1="687.5" x2="156" y2="687.5" stroke="#707070" stroke-width="1"/>
<rect x="142.5" y="611.5" width="23" height="70" fill="#F9BD82" stroke="#646464" stroke-width="1"/>
<line x1="142.5" y1="663.5" x2="165.5" y2="663.5" stroke="#646464" stroke-width="1"/>
<rect x="152.5" y="644.5" width="3" height="3" fill="none" stroke="#4a4a4a" stroke-width="1"/>
<path d="M151.8 546.8L156.2 551.2M156.2 546.8L151.8 551.2" stroke="#303030" stroke-width="0.95" fill="none"/>
<path d="M151.8 685.8L156.2 690.2M156.2 685.8L151.8 690.2" stroke="#303030" stroke-width="0.95" fill="none"/>
<line x1="183.5" y1="584.5" x2="183.5" y2="620.5" stroke="#707070" stroke-width="1"/>
<line x1="182" y1="584.5" x2="185" y2="584.5" stroke="#707070" stroke-width="1"/>
<line x1="183.5" y1="659.5" x2="183.5" y2="665.5" stroke="#707070" stroke-width="1"/>
<line x1="182" y1="665.5" x2="185" y2="665.5" stroke="#707070" stroke-width="1"/>
<rect x="171.5" y="620.5" width="24" height="39" fill="#80D0F4" stroke="#646464" stroke-width="1"/>
<line x1="171.5" y1="657.5" x2="195.5" y2="657.5" stroke="#646464" stroke-width="1"/>
<rect x="181.5" y="638.5" width="3" height="3" fill="none" stroke="#4a4a4a" stroke-width="1"/>
<path d="M180.8 581.8L185.2 586.2M185.2 581.8L180.8 586.2" stroke="#303030" stroke-width="0.95" fill="none"/>
<path d="M180.8 662.8L185.2 667.2M185.2 662.8L180.8 667.2" stroke="#303030" stroke-width="0.95" fill="none"/>
<line x1="212.5" y1="576.5" x2="212.5" y2="599.5" stroke="#707070" stroke-width="1"/>
<line x1="211" y1="576.5" x2="214" y2="576.5" stroke="#707070" stroke-width="1"/>
<line x1="212.5" y1="641.5" x2="212.5" y2="660.5" stroke="#707070" stroke-width="1"/>
<line x1="211" y1="660.5" x2="214" y2="660.5" stroke="#707070" stroke-width="1"/>
<rect x="200.5" y="599.5" width="24" height="42" fill="#80D0F4" stroke="#646464" stroke-width="1"/>
<line x1="200.5" y1="625.5" x2="224.5" y2="625.5" stroke="#646464" stroke-width="1"/>
<rect x="210.5" y="615.5" width="3" height="3" fill="none" stroke="#4a4a4a" stroke-width="1"/>
<path d="M209.8 503.8L214.2 508.2M214.2 503.8L209.8 508.2" stroke="#303030" stroke-width="0.95" fill="none"/>
<path d="M209.8 657.8L214.2 662.2M214.2 657.8L209.8 662.2" stroke="#303030" stroke-width="0.95" fill="none"/>
<line x1="241.5" y1="544.5" x2="241.5" y2="594.5" stroke="#707070" stroke-width="1"/>
<line x1="240" y1="544.5" x2="243" y2="544.5" stroke="#707070" stroke-width="1"/>
<line x1="241.5" y1="643.5" x2="241.5" y2="663.5" stroke="#707070" stroke-width="1"/>
<line x1="240" y1="663.5" x2="243" y2="663.5" stroke="#707070" stroke-width="1"/>
<rect x="229.5" y="594.5" width="24" height="49" fill="#80D0F4" stroke="#646464" stroke-width="1"/>
<line x1="229.5" y1="609.5" x2="253.5" y2="609.5" stroke="#646464" stroke-width="1"/>
<rect x="240.5" y="608.5" width="3" height="3" fill="none" stroke="#4a4a4a" stroke-width="1"/>
<path d="M239.8 481.8L244.2 486.2M244.2 481.8L239.8 486.2" stroke="#303030" stroke-width="0.95" fill="none"/>
<path d="M239.8 660.8L244.2 665.2M244.2 660.8L239.8 665.2" stroke="#303030" stroke-width="0.95" fill="none"/>
<line x1="270.5" y1="602.5" x2="270.5" y2="629.5" stroke="#707070" stroke-width="1"/>
<line x1="269" y1="602.5" x2="272" y2="602.5" stroke="#707070" stroke-width="1"/>
<line x1="270.5" y1="670.5" x2="270.5" y2="680.5" stroke="#707070" stroke-width="1"/>
<line x1="269" y1="680.5" x2="272" y2="680.5" stroke="#707070" stroke-width="1"/>
<rect x="258.5" y="629.5" width="24" height="41" fill="#80D0F4" stroke="#646464" stroke-width="1"/>
<line x1="258.5" y1="637.5" x2="282.5" y2="637.5" stroke="#646464" stroke-width="1"/>
<rect x="269.5" y="642.5" width="3" height="3" fill="none" stroke="#4a4a4a" stroke-width="1"/>
<path d="M268.8 600.8L273.2 605.2M273.2 600.8L268.8 605.2" stroke="#303030" stroke-width="0.95" fill="none"/>
<path d="M268.8 678.8L273.2 683.2M273.2 678.8L268.8 683.2" stroke="#303030" stroke-width="0.95" fill="none"/>
<line x1="299.5" y1="436.5" x2="299.5" y2="576.5" stroke="#707070" stroke-width="1"/>
<line x1="298" y1="436.5" x2="301" y2="436.5" stroke="#707070" stroke-width="1"/>
<line x1="299.5" y1="672.5" x2="299.5" y2="684.5" stroke="#707070" stroke-width="1"/>
<line x1="298" y1="684.5" x2="301" y2="684.5" stroke="#707070" stroke-width="1"/>
<rect x="288.5" y="576.5" width="23" height="96" fill="#BFE0A6" stroke="#646464" stroke-width="1"/>
<line x1="288.5" y1="650.5" x2="311.5" y2="650.5" stroke="#646464" stroke-width="1"/>
<rect x="298.5" y="606.5" width="3" height="3" fill="none" stroke="#4a4a4a" stroke-width="1"/>
<path d="M297.8 681.8L302.2 686.2M302.2 681.8L297.8 686.2" stroke="#303030" stroke-width="0.95" fill="none"/>
<line x1="328.5" y1="674.5" x2="328.5" y2="680.5" stroke="#707070" stroke-width="1"/>
<line x1="327" y1="674.5" x2="330" y2="674.5" stroke="#707070" stroke-width="1"/>
<line x1="328.5" y1="686.5" x2="328.5" y2="690.5" stroke="#707070" stroke-width="1"/>
<line x1="327" y1="690.5" x2="330" y2="690.5" stroke="#707070" stroke-width="1"/>
<rect x="317.5" y="680.5" width="23" height="6" fill="#F4A6CB" stroke="#646464" stroke-width="1"/>
<line x1="317.5" y1="683.5" x2="340.5" y2="683.5" stroke="#646464" stroke-width="1"/>
<rect x="327.5" y="680.5" width="3" height="3" fill="none" stroke="#4a4a4a" stroke-width="1"/>
<path d="M326.8 647.8L331.2 652.2M331.2 647.8L326.8 652.2" stroke="#303030" stroke-width="0.95" fill="none"/>
<path d="M326.8 688.8L331.2 693.2M331.2 688.8L326.8 693.2" stroke="#303030" stroke-width="0.95" fill="none"/>
<line x1="357.5" y1="663.5" x2="357.5" y2="676.5" stroke="#707070" stroke-width="1"/>
<line x1="356" y1="663.5" x2="359" y2="663.5" stroke="#707070" stroke-width="1"/>
<rect x="346.5" y="676.5" width="23" height="14" fill="#F4A6CB" stroke="#646464" stroke-width="1"/>
<line x1="346.5" y1="688.5" x2="369.5" y2="688.5" stroke="#646464" stroke-width="1"/>
<rect x="356.5" y="678.5" width="3" height="3" fill="none" stroke="#4a4a4a" stroke-width="1"/>
<path d="M355.8 641.8L360.2 646.2M360.2 641.8L355.8 646.2" stroke="#303030" stroke-width="0.95" fill="none"/>
<line x1="387.5" y1="604.5" x2="387.5" y2="623.5" stroke="#707070" stroke-width="1"/>
<line x1="386" y1="604.5" x2="389" y2="604.5" stroke="#707070" stroke-width="1"/>
<line x1="387.5" y1="651.5" x2="387.5" y2="686.5" stroke="#707070" stroke-width="1"/>
<line x1="386" y1="686.5" x2="389" y2="686.5" stroke="#707070" stroke-width="1"/>
<rect x="375.5" y="623.5" width="23" height="28" fill="#F4A6CB" stroke="#646464" stroke-width="1"/>
<line x1="375.5" y1="636.5" x2="398.5" y2="636.5" stroke="#646464" stroke-width="1"/>
<rect x="385.5" y="637.5" width="3" height="3" fill="none" stroke="#4a4a4a" stroke-width="1"/>
<path d="M384.8 601.8L389.2 606.2M389.2 601.8L384.8 606.2" stroke="#303030" stroke-width="0.95" fill="none"/>
<path d="M384.8 683.8L389.2 688.2M389.2 683.8L384.8 688.2" stroke="#303030" stroke-width="0.95" fill="none"/>
<path d="M52 692.75H401.5V408.5H52" fill="none" stroke="#474747" stroke-width="1"/>
<line x1="52" y1="408.5" x2="52" y2="692.75" stroke="#474747" stroke-width="1"/>
<line x1="46.2" y1="692.5" x2="52" y2="692.5" stroke="#474747" stroke-width="1"/>
<line x1="46.2" y1="629.5" x2="52" y2="629.5" stroke="#474747" stroke-width="1"/>
<line x1="46.2" y1="566.5" x2="52" y2="566.5" stroke="#474747" stroke-width="1"/>
<line x1="46.2" y1="503.5" x2="52" y2="503.5" stroke="#474747" stroke-width="1"/>
<line x1="46.2" y1="440.5" x2="52" y2="440.5" stroke="#474747" stroke-width="1"/>
<line x1="49" y1="660.5" x2="52" y2="660.5" stroke="#474747" stroke-width="1"/>
<line x1="49" y1="597.5" x2="52" y2="597.5" stroke="#474747" stroke-width="1"/>
<line x1="49" y1="534.5" x2="52" y2="534.5" stroke="#474747" stroke-width="1"/>
<line x1="49" y1="471.5" x2="52" y2="471.5" stroke="#474747" stroke-width="1"/>
<line x1="49" y1="408.5" x2="52" y2="408.5" stroke="#474747" stroke-width="1"/>
<text x="43.6" y="695.55" font-size="11.4" text-anchor="end" fill="#1a1a1a" textLength="5.9" lengthAdjust="spacingAndGlyphs" stroke="#1a1a1a" stroke-width="0.25">0</text>
<text x="43.6" y="632.51" font-size="11.4" text-anchor="end" fill="#1a1a1a" textLength="17.69" lengthAdjust="spacingAndGlyphs" stroke="#1a1a1a" stroke-width="0.25">200</text>
<text x="43.6" y="569.47" font-size="11.4" text-anchor="end" fill="#1a1a1a" textLength="17.69" lengthAdjust="spacingAndGlyphs" stroke="#1a1a1a" stroke-width="0.25">400</text>
<text x="43.6" y="506.43" font-size="11.4" text-anchor="end" fill="#1a1a1a" textLength="17.69" lengthAdjust="spacingAndGlyphs" stroke="#1a1a1a" stroke-width="0.25">600</text>
<text x="43.6" y="443.39" font-size="11.4" text-anchor="end" fill="#1a1a1a" textLength="17.69" lengthAdjust="spacingAndGlyphs" stroke="#1a1a1a" stroke-width="0.25">800</text>
<line x1="66.5" y1="692.75" x2="66.5" y2="698.75" stroke="#474747" stroke-width="1"/>
<line x1="96.5" y1="692.75" x2="96.5" y2="698.75" stroke="#474747" stroke-width="1"/>
<line x1="125.5" y1="692.75" x2="125.5" y2="698.75" stroke="#474747" stroke-width="1"/>
<line x1="154.5" y1="692.75" x2="154.5" y2="698.75" stroke="#474747" stroke-width="1"/>
<line x1="183.5" y1="692.75" x2="183.5" y2="698.75" stroke="#474747" stroke-width="1"/>
<line x1="212.5" y1="692.75" x2="212.5" y2="698.75" stroke="#474747" stroke-width="1"/>
<line x1="241.5" y1="692.75" x2="241.5" y2="698.75" stroke="#474747" stroke-width="1"/>
<line x1="270.5" y1="692.75" x2="270.5" y2="698.75" stroke="#474747" stroke-width="1"/>
<line x1="299.5" y1="692.75" x2="299.5" y2="698.75" stroke="#474747" stroke-width="1"/>
<line x1="328.5" y1="692.75" x2="328.5" y2="698.75" stroke="#474747" stroke-width="1"/>
<line x1="357.5" y1="692.75" x2="357.5" y2="698.75" stroke="#474747" stroke-width="1"/>
<line x1="387.5" y1="692.75" x2="387.5" y2="698.75" stroke="#474747" stroke-width="1"/>
<text transform="translate(70.77,748.13) rotate(-90)" font-size="11.1" fill="#F8B77B" textLength="44.01" lengthAdjust="spacingAndGlyphs">Industrial</text>
<text transform="translate(96.47,739.24) rotate(-90)" font-size="11.1" fill="#F8B77B" textLength="28.55" lengthAdjust="spacingAndGlyphs">Urban</text>
<text transform="translate(126.47,739.32) rotate(-90)" font-size="11.1" fill="#F8B77B" textLength="25.87" lengthAdjust="spacingAndGlyphs">Rural</text>
<text transform="translate(156.47,764.87) rotate(-90)" font-size="11.1" fill="#F8B77B" textLength="52.3" lengthAdjust="spacingAndGlyphs">Tadoussac</text>
<text transform="translate(183.97,751.91) rotate(-90)" font-size="11.1" fill="#7ACBF3" textLength="43.49" lengthAdjust="spacingAndGlyphs">Industrial</text>
<text transform="translate(212.37,740.38) rotate(-90)" font-size="11.1" fill="#7ACBF3" textLength="30.24" lengthAdjust="spacingAndGlyphs">Urban</text>
<text transform="translate(240.67,734.62) rotate(-90)" font-size="11.1" fill="#7ACBF3" textLength="26.08" lengthAdjust="spacingAndGlyphs">Rural</text>
<text transform="translate(270.73,746.53) rotate(-90)" font-size="11.1" fill="#7ACBF3" textLength="37.31" lengthAdjust="spacingAndGlyphs">Saturna</text>
<text transform="translate(299.57,744.97) rotate(-90)" font-size="11.1" fill="#ACD690" textLength="37.28" lengthAdjust="spacingAndGlyphs">Toronto</text>
<text transform="translate(329.91,726) rotate(-90)" font-size="11.1" fill="#F698C0" textLength="21.71" lengthAdjust="spacingAndGlyphs">Råö</text>
<text transform="translate(360.97,731.21) rotate(-90)" font-size="11.1" fill="#F698C0" textLength="29.43" lengthAdjust="spacingAndGlyphs">Pallas</text>
<text transform="translate(390.37,764.62) rotate(-90)" font-size="11.1" fill="#F698C0" textLength="63.95" lengthAdjust="spacingAndGlyphs">Indian Ocean</text>
<text x="71.86" y="777.9" font-size="12.6" font-weight="bold" fill="#F8B77B" textLength="45" lengthAdjust="spacingAndGlyphs">Quebec</text>
<text x="170.04" y="779.1" font-size="12.6" font-weight="bold" fill="#7ACBF3" textLength="99.09" lengthAdjust="spacingAndGlyphs">British Columbia</text>
<text x="298.74" y="778.9" font-size="12.6" font-weight="bold" fill="#F698C0" textLength="88.28" lengthAdjust="spacingAndGlyphs">From literature</text>
<text transform="translate(12.2,626.62) rotate(-90)" font-size="13.8" fill="#1a1a1a" textLength="120.53" lengthAdjust="spacingAndGlyphs" stroke="#1a1a1a" stroke-width="0.25">Concentration (pg m</text>
<text transform="translate(7.8,502.9) rotate(-90)" font-size="8" fill="#1a1a1a" stroke="#1a1a1a" stroke-width="0.25">−</text>
<text transform="translate(7.8,497.6) rotate(-90)" font-size="9.5" fill="#1a1a1a" textLength="4.23" lengthAdjust="spacingAndGlyphs" stroke="#1a1a1a" stroke-width="0.25">3</text>
<text transform="translate(12.2,491.6) rotate(-90)" font-size="13.8" fill="#1a1a1a" stroke="#1a1a1a" stroke-width="0.25">)</text>
<polygon points="355,446.2 371.9,455 371.9,472.1 355,480.6 337.6,472.1 337.6,455" fill="none" stroke="#3a3a3a" stroke-width="1.1" stroke-linejoin="round"/>
<line x1="341.01" y1="455.95" x2="354.24" y2="449.26" stroke="#3a3a3a" stroke-width="0.95"/>
<line x1="369.5" y1="457.04" x2="369.5" y2="470.04" stroke="#3a3a3a" stroke-width="0.95"/>
<line x1="354.24" y1="477.58" x2="341.02" y2="471.12" stroke="#3a3a3a" stroke-width="0.95"/>
<line x1="355" y1="446.2" x2="354.95" y2="439.6" stroke="#3a3a3a" stroke-width="1.1"/>
<line x1="354.95" y1="439.6" x2="354.9" y2="433" stroke="#E8392C" stroke-width="1.1"/>
<line x1="359" y1="425.5" x2="365.88" y2="422.75" stroke="#E8392C" stroke-width="1.1"/>
<line x1="365.88" y1="422.75" x2="372.75" y2="420" stroke="#3a3a3a" stroke-width="1.1"/>
<text x="350.93" y="430.5" font-size="11" fill="#E8392C" textLength="7.27" lengthAdjust="spacingAndGlyphs">O</text>
<line x1="355" y1="480.6" x2="355" y2="485.68" stroke="#3a3a3a" stroke-width="1.1"/>
<line x1="355" y1="485.68" x2="355" y2="490.75" stroke="#E8392C" stroke-width="1.1"/>
<line x1="350.75" y1="499.25" x2="343.88" y2="502.93" stroke="#E8392C" stroke-width="1.1"/>
<line x1="343.88" y1="502.93" x2="337" y2="506.6" stroke="#3a3a3a" stroke-width="1.1"/>
<text x="350.94" y="499.5" font-size="11" fill="#E8392C" textLength="7.15" lengthAdjust="spacingAndGlyphs">O</text>
<line x1="337.6" y1="455" x2="331.65" y2="450.95" stroke="#3a3a3a" stroke-width="1.1"/>
<line x1="331.65" y1="450.95" x2="325.7" y2="446.9" stroke="#46B548" stroke-width="1.1"/>
<text x="315.41" y="447.6" font-size="9.8" fill="#46B548" textLength="10.19" lengthAdjust="spacingAndGlyphs">Cl</text>
<line x1="371.9" y1="455" x2="377.8" y2="451.45" stroke="#3a3a3a" stroke-width="1.1"/>
<line x1="377.8" y1="451.45" x2="383.7" y2="447.9" stroke="#46B548" stroke-width="1.1"/>
<text x="384.08" y="447.6" font-size="9.8" fill="#46B548" textLength="8.93" lengthAdjust="spacingAndGlyphs">Cl</text>
<line x1="337.6" y1="472.1" x2="331.55" y2="475.15" stroke="#3a3a3a" stroke-width="1.1"/>
<line x1="331.55" y1="475.15" x2="325.5" y2="478.2" stroke="#46B548" stroke-width="1.1"/>
<text x="315.41" y="481.9" font-size="9.8" fill="#46B548" textLength="10.19" lengthAdjust="spacingAndGlyphs">Cl</text>
<line x1="371.9" y1="472.1" x2="377.95" y2="475.5" stroke="#3a3a3a" stroke-width="1.1"/>
<line x1="377.95" y1="475.5" x2="384" y2="478.9" stroke="#46B548" stroke-width="1.1"/>
<text x="384.08" y="481.9" font-size="9.8" fill="#46B548" textLength="8.93" lengthAdjust="spacingAndGlyphs">Cl</text>
<text x="328.63" y="534.5" font-size="16.8" fill="#1a1a1a" textLength="47.75" lengthAdjust="spacingAndGlyphs">DAME</text>
<line x1="460.5" y1="642.5" x2="460.5" y2="658.5" stroke="#707070" stroke-width="1"/>
<line x1="459" y1="642.5" x2="462" y2="642.5" stroke="#707070" stroke-width="1"/>
<line x1="460.5" y1="673.5" x2="460.5" y2="680.5" stroke="#707070" stroke-width="1"/>
<line x1="459" y1="680.5" x2="462" y2="680.5" stroke="#707070" stroke-width="1"/>
<rect x="449.5" y="658.5" width="23" height="15" fill="#F9BD82" stroke="#646464" stroke-width="1"/>
<line x1="449.5" y1="667.5" x2="472.5" y2="667.5" stroke="#646464" stroke-width="1"/>
<rect x="459.5" y="663.5" width="3" height="3" fill="none" stroke="#4a4a4a" stroke-width="1"/>
<path d="M458.8 639.8L463.2 644.2M463.2 639.8L458.8 644.2" stroke="#303030" stroke-width="0.95" fill="none"/>
<path d="M458.8 677.8L463.2 682.2M463.2 677.8L458.8 682.2" stroke="#303030" stroke-width="0.95" fill="none"/>
<line x1="490.5" y1="648.5" x2="490.5" y2="659.5" stroke="#707070" stroke-width="1"/>
<line x1="489" y1="648.5" x2="492" y2="648.5" stroke="#707070" stroke-width="1"/>
<line x1="490.5" y1="674.5" x2="490.5" y2="682.5" stroke="#707070" stroke-width="1"/>
<line x1="489" y1="682.5" x2="492" y2="682.5" stroke="#707070" stroke-width="1"/>
<rect x="478.5" y="659.5" width="23" height="15" fill="#F9BD82" stroke="#646464" stroke-width="1"/>
<line x1="478.5" y1="670.5" x2="501.5" y2="670.5" stroke="#646464" stroke-width="1"/>
<rect x="488.5" y="664.5" width="3" height="3" fill="none" stroke="#4a4a4a" stroke-width="1"/>
<path d="M487.8 634.8L492.2 639.2M492.2 634.8L487.8 639.2" stroke="#303030" stroke-width="0.95" fill="none"/>
<path d="M487.8 680.8L492.2 685.2M492.2 680.8L487.8 685.2" stroke="#303030" stroke-width="0.95" fill="none"/>
<line x1="519.5" y1="648.5" x2="519.5" y2="655.5" stroke="#707070" stroke-width="1"/>
<line x1="518" y1="648.5" x2="521" y2="648.5" stroke="#707070" stroke-width="1"/>
<line x1="519.5" y1="668.5" x2="519.5" y2="677.5" stroke="#707070" stroke-width="1"/>
<line x1="518" y1="677.5" x2="521" y2="677.5" stroke="#707070" stroke-width="1"/>
<rect x="507.5" y="655.5" width="23" height="13" fill="#F9BD82" stroke="#646464" stroke-width="1"/>
<line x1="507.5" y1="661.5" x2="530.5" y2="661.5" stroke="#646464" stroke-width="1"/>
<rect x="517.5" y="660.5" width="3" height="3" fill="none" stroke="#4a4a4a" stroke-width="1"/>
<path d="M516.8 645.8L521.2 650.2M521.2 645.8L516.8 650.2" stroke="#303030" stroke-width="0.95" fill="none"/>
<path d="M516.8 675.8L521.2 680.2M521.2 675.8L516.8 680.2" stroke="#303030" stroke-width="0.95" fill="none"/>
<line x1="548.5" y1="652.5" x2="548.5" y2="672.5" stroke="#707070" stroke-width="1"/>
<line x1="547" y1="652.5" x2="550" y2="652.5" stroke="#707070" stroke-width="1"/>
<line x1="548.5" y1="691.5" x2="548.5" y2="693.5" stroke="#707070" stroke-width="1"/>
<line x1="547" y1="693.5" x2="550" y2="693.5" stroke="#707070" stroke-width="1"/>
<rect x="536.5" y="672.5" width="23" height="19" fill="#F9BD82" stroke="#646464" stroke-width="1"/>
<line x1="536.5" y1="683.5" x2="559.5" y2="683.5" stroke="#646464" stroke-width="1"/>
<rect x="546.5" y="678.5" width="3" height="3" fill="none" stroke="#4a4a4a" stroke-width="1"/>
<path d="M545.8 650.8L550.2 655.2M550.2 650.8L545.8 655.2" stroke="#303030" stroke-width="0.95" fill="none"/>
<line x1="577.5" y1="572.5" x2="577.5" y2="609.5" stroke="#707070" stroke-width="1"/>
<line x1="576" y1="572.5" x2="579" y2="572.5" stroke="#707070" stroke-width="1"/>
<line x1="577.5" y1="642.5" x2="577.5" y2="651.5" stroke="#707070" stroke-width="1"/>
<line x1="576" y1="651.5" x2="579" y2="651.5" stroke="#707070" stroke-width="1"/>
<rect x="565.5" y="609.5" width="23" height="33" fill="#80D0F4" stroke="#646464" stroke-width="1"/>
<line x1="565.5" y1="632.5" x2="588.5" y2="632.5" stroke="#646464" stroke-width="1"/>
<rect x="575.5" y="615.5" width="3" height="3" fill="none" stroke="#4a4a4a" stroke-width="1"/>
<path d="M574.8 501.8L579.2 506.2M579.2 501.8L574.8 506.2" stroke="#303030" stroke-width="0.95" fill="none"/>
<path d="M574.8 649.8L579.2 654.2M579.2 649.8L574.8 654.2" stroke="#303030" stroke-width="0.95" fill="none"/>
<line x1="606.5" y1="523.5" x2="606.5" y2="576.5" stroke="#707070" stroke-width="1"/>
<line x1="605" y1="523.5" x2="608" y2="523.5" stroke="#707070" stroke-width="1"/>
<line x1="606.5" y1="635.5" x2="606.5" y2="664.5" stroke="#707070" stroke-width="1"/>
<line x1="605" y1="664.5" x2="608" y2="664.5" stroke="#707070" stroke-width="1"/>
<rect x="594.5" y="576.5" width="24" height="59" fill="#80D0F4" stroke="#646464" stroke-width="1"/>
<line x1="594.5" y1="619.5" x2="618.5" y2="619.5" stroke="#646464" stroke-width="1"/>
<rect x="604.5" y="608.5" width="3" height="3" fill="none" stroke="#4a4a4a" stroke-width="1"/>
<path d="M603.8 521.8L608.2 526.2M608.2 521.8L603.8 526.2" stroke="#303030" stroke-width="0.95" fill="none"/>
<path d="M603.8 661.8L608.2 666.2M608.2 661.8L603.8 666.2" stroke="#303030" stroke-width="0.95" fill="none"/>
<line x1="635.5" y1="424.5" x2="635.5" y2="511.5" stroke="#707070" stroke-width="1"/>
<line x1="634" y1="424.5" x2="637" y2="424.5" stroke="#707070" stroke-width="1"/>
<line x1="635.5" y1="620.5" x2="635.5" y2="663.5" stroke="#707070" stroke-width="1"/>
<line x1="634" y1="663.5" x2="637" y2="663.5" stroke="#707070" stroke-width="1"/>
<rect x="624.5" y="511.5" width="23" height="109" fill="#80D0F4" stroke="#646464" stroke-width="1"/>
<line x1="624.5" y1="566.5" x2="647.5" y2="566.5" stroke="#646464" stroke-width="1"/>
<rect x="634.5" y="549.5" width="3" height="3" fill="none" stroke="#4a4a4a" stroke-width="1"/>
<path d="M633.8 661.8L638.2 666.2M638.2 661.8L633.8 666.2" stroke="#303030" stroke-width="0.95" fill="none"/>
<line x1="664.5" y1="622.5" x2="664.5" y2="635.5" stroke="#707070" stroke-width="1"/>
<line x1="663" y1="622.5" x2="666" y2="622.5" stroke="#707070" stroke-width="1"/>
<line x1="664.5" y1="674.5" x2="664.5" y2="684.5" stroke="#707070" stroke-width="1"/>
<line x1="663" y1="684.5" x2="666" y2="684.5" stroke="#707070" stroke-width="1"/>
<rect x="653.5" y="635.5" width="23" height="39" fill="#80D0F4" stroke="#646464" stroke-width="1"/>
<line x1="653.5" y1="650.5" x2="676.5" y2="650.5" stroke="#646464" stroke-width="1"/>
<rect x="663.5" y="652.5" width="3" height="3" fill="none" stroke="#4a4a4a" stroke-width="1"/>
<path d="M662.8 619.8L667.2 624.2M667.2 619.8L662.8 624.2" stroke="#303030" stroke-width="0.95" fill="none"/>
<path d="M662.8 681.8L667.2 686.2M667.2 681.8L662.8 686.2" stroke="#303030" stroke-width="0.95" fill="none"/>
<line x1="693.5" y1="637.5" x2="693.5" y2="667.5" stroke="#707070" stroke-width="1"/>
<line x1="692" y1="637.5" x2="695" y2="637.5" stroke="#707070" stroke-width="1"/>
<line x1="693.5" y1="689.5" x2="693.5" y2="692.5" stroke="#707070" stroke-width="1"/>
<line x1="692" y1="692.5" x2="695" y2="692.5" stroke="#707070" stroke-width="1"/>
<rect x="682.5" y="667.5" width="23" height="22" fill="#BFE0A6" stroke="#646464" stroke-width="1"/>
<line x1="682.5" y1="684.5" x2="705.5" y2="684.5" stroke="#646464" stroke-width="1"/>
<rect x="692.5" y="672.5" width="3" height="3" fill="none" stroke="#4a4a4a" stroke-width="1"/>
<path d="M691.8 596.8L696.2 601.2M696.2 596.8L691.8 601.2" stroke="#303030" stroke-width="0.95" fill="none"/>
<path d="M691.8 689.8L696.2 694.2M696.2 689.8L691.8 694.2" stroke="#303030" stroke-width="0.95" fill="none"/>
<line x1="722.5" y1="671.5" x2="722.5" y2="679.5" stroke="#707070" stroke-width="1"/>
<line x1="721" y1="671.5" x2="724" y2="671.5" stroke="#707070" stroke-width="1"/>
<line x1="722.5" y1="685.5" x2="722.5" y2="693.5" stroke="#707070" stroke-width="1"/>
<line x1="721" y1="693.5" x2="724" y2="693.5" stroke="#707070" stroke-width="1"/>
<rect x="711.5" y="679.5" width="23" height="6" fill="#F4A6CB" stroke="#646464" stroke-width="1"/>
<line x1="711.5" y1="682.5" x2="734.5" y2="682.5" stroke="#646464" stroke-width="1"/>
<rect x="721.5" y="679.5" width="3" height="3" fill="none" stroke="#4a4a4a" stroke-width="1"/>
<path d="M720.8 652.8L725.2 657.2M725.2 652.8L720.8 657.2" stroke="#303030" stroke-width="0.95" fill="none"/>
<path d="M720.8 690.8L725.2 695.2M725.2 690.8L720.8 695.2" stroke="#303030" stroke-width="0.95" fill="none"/>
<rect x="740.5" y="690.5" width="23" height="3" fill="#dc98b6" stroke="#a57590" stroke-width="1"/>
<path d="M749.8 685.8L754.2 690.2M754.2 685.8L749.8 690.2" stroke="#303030" stroke-width="0.95" fill="none"/>
<rect x="769.5" y="687.5" width="23" height="6" fill="#F4A6CB" stroke="#646464" stroke-width="1"/>
<line x1="769.5" y1="692.5" x2="792.5" y2="692.5" stroke="#646464" stroke-width="1"/>
<rect x="779.5" y="686.5" width="3" height="3" fill="none" stroke="#4a4a4a" stroke-width="1"/>
<path d="M778.8 664.8L783.2 669.2M783.2 664.8L778.8 669.2" stroke="#303030" stroke-width="0.95" fill="none"/>
<path d="M446.5 694.5H796V410.5H446.5" fill="none" stroke="#474747" stroke-width="1"/>
<line x1="446.5" y1="410.5" x2="446.5" y2="694.5" stroke="#474747" stroke-width="1"/>
<line x1="440.8" y1="694.5" x2="446.5" y2="694.5" stroke="#474747" stroke-width="1"/>
<line x1="440.8" y1="637.5" x2="446.5" y2="637.5" stroke="#474747" stroke-width="1"/>
<line x1="440.8" y1="580.5" x2="446.5" y2="580.5" stroke="#474747" stroke-width="1"/>
<line x1="440.8" y1="524.5" x2="446.5" y2="524.5" stroke="#474747" stroke-width="1"/>
<line x1="440.8" y1="467.5" x2="446.5" y2="467.5" stroke="#474747" stroke-width="1"/>
<line x1="440.8" y1="410.5" x2="446.5" y2="410.5" stroke="#474747" stroke-width="1"/>
<line x1="443" y1="665.5" x2="446.5" y2="665.5" stroke="#474747" stroke-width="1"/>
<line x1="443" y1="609.5" x2="446.5" y2="609.5" stroke="#474747" stroke-width="1"/>
<line x1="443" y1="552.5" x2="446.5" y2="552.5" stroke="#474747" stroke-width="1"/>
<line x1="443" y1="495.5" x2="446.5" y2="495.5" stroke="#474747" stroke-width="1"/>
<line x1="443" y1="439.5" x2="446.5" y2="439.5" stroke="#474747" stroke-width="1"/>
<text x="437.8" y="697.15" font-size="11.4" text-anchor="end" fill="#1a1a1a" textLength="5.9" lengthAdjust="spacingAndGlyphs" stroke="#1a1a1a" stroke-width="0.25">0</text>
<text x="437.8" y="640.5" font-size="11.4" text-anchor="end" fill="#1a1a1a" textLength="11.79" lengthAdjust="spacingAndGlyphs" stroke="#1a1a1a" stroke-width="0.25">50</text>
<text x="437.8" y="583.85" font-size="11.4" text-anchor="end" fill="#1a1a1a" textLength="17.69" lengthAdjust="spacingAndGlyphs" stroke="#1a1a1a" stroke-width="0.25">100</text>
<text x="437.8" y="527.2" font-size="11.4" text-anchor="end" fill="#1a1a1a" textLength="17.69" lengthAdjust="spacingAndGlyphs" stroke="#1a1a1a" stroke-width="0.25">150</text>
<text x="437.8" y="470.55" font-size="11.4" text-anchor="end" fill="#1a1a1a" textLength="17.69" lengthAdjust="spacingAndGlyphs" stroke="#1a1a1a" stroke-width="0.25">200</text>
<text x="437.8" y="413.9" font-size="11.4" text-anchor="end" fill="#1a1a1a" textLength="17.69" lengthAdjust="spacingAndGlyphs" stroke="#1a1a1a" stroke-width="0.25">250</text>
<line x1="460.5" y1="694.5" x2="460.5" y2="700.5" stroke="#474747" stroke-width="1"/>
<line x1="490.5" y1="694.5" x2="490.5" y2="700.5" stroke="#474747" stroke-width="1"/>
<line x1="519.5" y1="694.5" x2="519.5" y2="700.5" stroke="#474747" stroke-width="1"/>
<line x1="548.5" y1="694.5" x2="548.5" y2="700.5" stroke="#474747" stroke-width="1"/>
<line x1="577.5" y1="694.5" x2="577.5" y2="700.5" stroke="#474747" stroke-width="1"/>
<line x1="606.5" y1="694.5" x2="606.5" y2="700.5" stroke="#474747" stroke-width="1"/>
<line x1="635.5" y1="694.5" x2="635.5" y2="700.5" stroke="#474747" stroke-width="1"/>
<line x1="664.5" y1="694.5" x2="664.5" y2="700.5" stroke="#474747" stroke-width="1"/>
<line x1="693.5" y1="694.5" x2="693.5" y2="700.5" stroke="#474747" stroke-width="1"/>
<line x1="722.5" y1="694.5" x2="722.5" y2="700.5" stroke="#474747" stroke-width="1"/>
<line x1="752.5" y1="694.5" x2="752.5" y2="700.5" stroke="#474747" stroke-width="1"/>
<line x1="781.5" y1="694.5" x2="781.5" y2="700.5" stroke="#474747" stroke-width="1"/>
<text transform="translate(462.77,748.63) rotate(-90)" font-size="11.1" fill="#F8B77B" textLength="44.01" lengthAdjust="spacingAndGlyphs">Industrial</text>
<text transform="translate(490.27,736.8) rotate(-90)" font-size="11.1" fill="#F8B77B" textLength="30.87" lengthAdjust="spacingAndGlyphs">Urban</text>
<text transform="translate(521.97,736.05) rotate(-90)" font-size="11.1" fill="#F8B77B" textLength="26.93" lengthAdjust="spacingAndGlyphs">Rural</text>
<text transform="translate(547.77,756.87) rotate(-90)" font-size="11.1" fill="#F8B77B" textLength="52.3" lengthAdjust="spacingAndGlyphs">Tadoussac</text>
<text transform="translate(576.97,750.13) rotate(-90)" font-size="11.1" fill="#7ACBF3" textLength="44.22" lengthAdjust="spacingAndGlyphs">Industrial</text>
<text transform="translate(605.97,737.49) rotate(-90)" font-size="11.1" fill="#7ACBF3" textLength="30.35" lengthAdjust="spacingAndGlyphs">Urban</text>
<text transform="translate(635.27,736.07) rotate(-90)" font-size="11.1" fill="#7ACBF3" textLength="27.46" lengthAdjust="spacingAndGlyphs">Rural</text>
<text transform="translate(664.33,744.62) rotate(-90)" font-size="11.1" fill="#7ACBF3" textLength="36.8" lengthAdjust="spacingAndGlyphs">Saturna</text>
<text transform="translate(693.27,741.17) rotate(-90)" font-size="11.1" fill="#ACD690" textLength="37.48" lengthAdjust="spacingAndGlyphs">Toronto</text>
<text transform="translate(724.91,732.58) rotate(-90)" font-size="11.1" fill="#F698C0" textLength="21.39" lengthAdjust="spacingAndGlyphs">Råö</text>
<text transform="translate(755.27,731.8) rotate(-90)" font-size="11.1" fill="#F698C0" textLength="28.8" lengthAdjust="spacingAndGlyphs">Pallas</text>
<text transform="translate(783.97,755.04) rotate(-90)" font-size="11.1" fill="#F698C0" textLength="53.39" lengthAdjust="spacingAndGlyphs">East Africa</text>
<text x="472.35" y="778.6" font-size="12.6" font-weight="bold" fill="#F8B77B" textLength="45.71" lengthAdjust="spacingAndGlyphs">Quebec</text>
<text x="564.05" y="779.3" font-size="12.6" font-weight="bold" fill="#7ACBF3" textLength="98.69" lengthAdjust="spacingAndGlyphs">British Columbia</text>
<text x="706.55" y="777.8" font-size="12.6" font-weight="bold" fill="#F698C0" textLength="87.37" lengthAdjust="spacingAndGlyphs">From literature</text>
<polygon points="739.6,446 757.6,455.6 757.6,474 739.6,483.8 723.5,474 723.5,455.6" fill="none" stroke="#3a3a3a" stroke-width="1.1" stroke-linejoin="round"/>
<line x1="726.69" y1="456.49" x2="738.93" y2="449.19" stroke="#3a3a3a" stroke-width="0.95"/>
<line x1="755.2" y1="457.81" x2="755.2" y2="471.8" stroke="#3a3a3a" stroke-width="0.95"/>
<line x1="738.93" y1="480.58" x2="726.69" y2="473.13" stroke="#3a3a3a" stroke-width="0.95"/>
<line x1="739.6" y1="446" x2="739.6" y2="438.5" stroke="#3a3a3a" stroke-width="1.1"/>
<line x1="739.6" y1="438.5" x2="739.6" y2="431" stroke="#E8392C" stroke-width="1.1"/>
<line x1="744.5" y1="422.5" x2="751" y2="419.35" stroke="#E8392C" stroke-width="1.1"/>
<line x1="751" y1="419.35" x2="757.5" y2="416.2" stroke="#3a3a3a" stroke-width="1.1"/>
<text x="735.94" y="428.1" font-size="11" fill="#E8392C" textLength="7.15" lengthAdjust="spacingAndGlyphs">O</text>
<line x1="723.5" y1="455.6" x2="717.75" y2="451.9" stroke="#3a3a3a" stroke-width="1.1"/>
<line x1="717.75" y1="451.9" x2="712" y2="448.2" stroke="#E8392C" stroke-width="1.1"/>
<line x1="702.8" y1="447" x2="696.15" y2="451.75" stroke="#E8392C" stroke-width="1.1"/>
<line x1="696.15" y1="451.75" x2="689.5" y2="456.5" stroke="#3a3a3a" stroke-width="1.1"/>
<text x="702.88" y="447.4" font-size="11" fill="#E8392C" textLength="8.06" lengthAdjust="spacingAndGlyphs">O</text>
<line x1="757.6" y1="455.6" x2="766.1" y2="450.65" stroke="#3a3a3a" stroke-width="1.1"/>
<line x1="766.1" y1="450.65" x2="774.6" y2="445.7" stroke="#46B548" stroke-width="1.1"/>
<text x="775.13" y="445.4" font-size="9.8" fill="#46B548" textLength="9.73" lengthAdjust="spacingAndGlyphs">Cl</text>
<line x1="757.6" y1="474" x2="767.45" y2="478.9" stroke="#3a3a3a" stroke-width="1.1"/>
<line x1="767.45" y1="478.9" x2="777.3" y2="483.8" stroke="#46B548" stroke-width="1.1"/>
<text x="778.43" y="488.7" font-size="9.8" fill="#46B548" textLength="9.73" lengthAdjust="spacingAndGlyphs">Cl</text>
<line x1="723.5" y1="474" x2="714.3" y2="478.25" stroke="#3a3a3a" stroke-width="1.1"/>
<line x1="714.3" y1="478.25" x2="705.1" y2="482.5" stroke="#46B548" stroke-width="1.1"/>
<text x="694.43" y="486.1" font-size="9.8" fill="#46B548" textLength="9.73" lengthAdjust="spacingAndGlyphs">Cl</text>
<line x1="739.6" y1="483.8" x2="739.95" y2="489.05" stroke="#3a3a3a" stroke-width="1.1"/>
<line x1="739.95" y1="489.05" x2="740.3" y2="494.3" stroke="#46B548" stroke-width="1.1"/>
<text x="736.43" y="503.2" font-size="9.8" fill="#46B548" textLength="9.73" lengthAdjust="spacingAndGlyphs">Cl</text>
<text x="723.14" y="534.7" font-size="16.8" fill="#1a1a1a" textLength="38.5" lengthAdjust="spacingAndGlyphs">TeCV</text>
</svg></body></html>
